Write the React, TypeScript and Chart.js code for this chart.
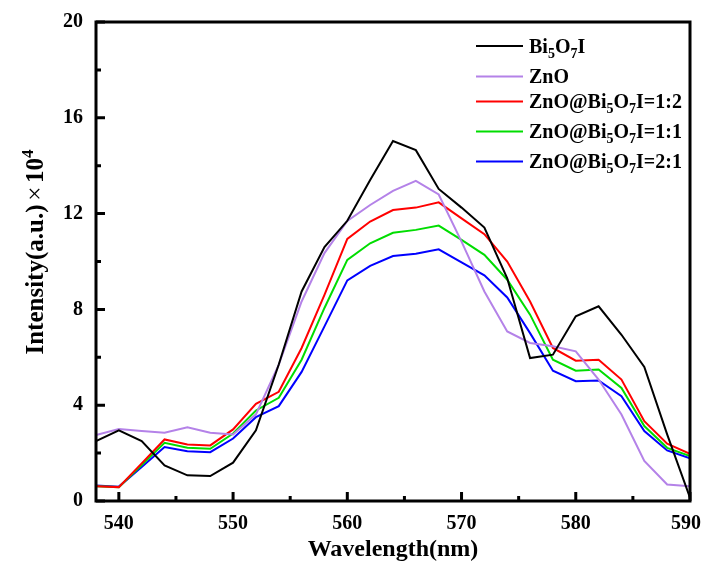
import React, { useEffect, useRef } from "react";
import { Chart, registerables } from "chart.js";

Chart.register(...registerables);

const wavelength = [538, 540, 542, 544, 546, 548, 550, 552, 554, 556, 558, 560, 562, 564, 566, 568, 570, 572, 574, 576, 578, 580, 582, 584, 586, 588, 590];
const bi5o7i = [2.5, 2.95, 2.5, 1.49, 1.07, 1.04, 1.6, 2.95, 5.7, 8.75, 10.6, 11.7, 13.4, 15.03, 14.65, 13.03, 12.25, 11.42, 9.3, 5.97, 6.11, 7.71, 8.13, 6.94, 5.6, 2.78, 0.14];
const zno = [2.75, 3.01, 2.92, 2.85, 3.08, 2.85, 2.78, 3.62, 5.69, 8.33, 10.35, 11.69, 12.36, 12.95, 13.37, 12.8, 10.83, 8.75, 7.08, 6.6, 6.46, 6.25, 5.07, 3.61, 1.67, 0.69, 0.62];
const ratio12 = [0.62, 0.58, 1.57, 2.57, 2.36, 2.32, 2.99, 4.06, 4.56, 6.39, 8.61, 10.94, 11.67, 12.15, 12.25, 12.47, 11.8, 11.14, 10.0, 8.33, 6.39, 5.86, 5.9, 5.07, 3.33, 2.39, 1.97];
const ratio11 = [0.62, 0.58, 1.5, 2.43, 2.22, 2.18, 2.82, 3.78, 4.31, 5.9, 8.06, 10.07, 10.76, 11.2, 11.32, 11.5, 10.9, 10.28, 9.24, 7.78, 5.9, 5.44, 5.49, 4.72, 3.13, 2.22, 1.88];
const ratio21 = [0.65, 0.6, 1.42, 2.25, 2.08, 2.04, 2.61, 3.5, 3.96, 5.39, 7.29, 9.21, 9.82, 10.23, 10.32, 10.51, 9.96, 9.42, 8.5, 7.01, 5.44, 5.0, 5.03, 4.38, 2.92, 2.11, 1.78];

const seriesValues = [bi5o7i, zno, ratio12, ratio11, ratio21];
const seriesLabels = ["Bi₅O₇I", "ZnO", "ZnO@Bi₅O₇I=1:2", "ZnO@Bi₅O₇I=1:1", "ZnO@Bi₅O₇I=2:1"];
const seriesColors = ["#000000", "#b482e8", "#ff0000", "#00dd00", "#0000ff"];

const xTicks = [540, 550, 560, 570, 580, 590];
const xMinorTicks = [545, 555, 565, 575, 585];
const yTicks = [0, 4, 8, 12, 16, 20];
const yMinorTicks = [2, 6, 10, 14, 18];
const xTitle = "Wavelength(nm)";
const yTitle = "Intensity(a.u.)×10⁴";

const FONT = '"Liberation Serif", "Times New Roman", serif';
const SUB = "₀₁₂₃₄₅₆₇₈₉";
const SUP = "⁰¹²³⁴⁵⁶⁷⁸⁹";

type Seg = { t: string; k: "n" | "sub" | "sup" | "op" };

function segs(s: string): Seg[] {
  const out: Seg[] = [];
  for (const ch of s) {
    let k: Seg["k"] = "n";
    let t = ch;
    const si = SUB.indexOf(ch);
    const pi = SUP.indexOf(ch);
    if (si >= 0) { k = "sub"; t = String(si); }
    else if (pi >= 0) { k = "sup"; t = String(pi); }
    else if (ch === "×") { k = "op"; }
    const last = out[out.length - 1];
    if (last && last.k === k) last.t += t;
    else out.push({ t, k });
  }
  return out;
}

function fontFor(k: Seg["k"], size: number) {
  if (k === "sub" || k === "sup") return `bold ${Math.round(size * 0.68)}px ${FONT}`;
  if (k === "op") return `${size}px ${FONT}`;
  return `bold ${size}px ${FONT}`;
}

function richWidth(ctx: CanvasRenderingContext2D, s: string, size: number) {
  let w = 0;
  for (const sg of segs(s)) {
    ctx.font = fontFor(sg.k, size);
    w += ctx.measureText(sg.t).width + (sg.k === "op" ? size * 0.3 : 0);
  }
  return w;
}

function drawRich(ctx: CanvasRenderingContext2D, s: string, x: number, y: number, size: number) {
  ctx.textBaseline = "alphabetic";
  ctx.textAlign = "left";
  let cx = x;
  for (const sg of segs(s)) {
    ctx.font = fontFor(sg.k, size);
    const dy = sg.k === "sub" ? size * 0.25 : sg.k === "sup" ? -size * 0.42 : 0;
    if (sg.k === "op") cx += size * 0.15;
    ctx.fillText(sg.t, cx, y + dy);
    cx += ctx.measureText(sg.t).width;
    if (sg.k === "op") cx += size * 0.15;
  }
}

const legendRows = [46, 76.5, 101.5, 131.5, 161.5];

const decorPlugin = {
  id: "decor",
  afterDatasetsDraw(chart: any) {
    const { ctx, chartArea: a, scales, width } = chart;
    const x = scales.x;
    const y = scales.y;
    ctx.save();
    ctx.strokeStyle = "#000";
    ctx.fillStyle = "#000";
    ctx.lineWidth = 3;
    ctx.lineCap = "butt";
    ctx.beginPath();
    for (const v of xTicks) {
      const px = x.getPixelForValue(v);
      ctx.moveTo(px, a.bottom); ctx.lineTo(px, a.bottom - 9);
    }
    for (const v of xMinorTicks) {
      const px = x.getPixelForValue(v);
      ctx.moveTo(px, a.bottom); ctx.lineTo(px, a.bottom - 5);
    }
    for (const v of yTicks) {
      const py = y.getPixelForValue(v);
      ctx.moveTo(a.left, py); ctx.lineTo(a.left + 9, py);
    }
    for (const v of yMinorTicks) {
      const py = y.getPixelForValue(v);
      ctx.moveTo(a.left, py); ctx.lineTo(a.left + 5, py);
    }
    ctx.stroke();
    ctx.strokeRect(a.left, a.top, a.right - a.left, a.bottom - a.top);

    // x tick labels (kept inside the canvas)
    ctx.font = `bold 20px ${FONT}`;
    ctx.textBaseline = "middle";
    ctx.textAlign = "center";
    for (const v of xTicks) {
      const label = String(v);
      const tw = ctx.measureText(label).width;
      let px = x.getPixelForValue(v);
      if (px + tw / 2 > width - 1) px = width - 1 - tw / 2;
      ctx.fillText(label, px, a.bottom + 23);
    }

    // legend
    seriesLabels.forEach((lab, i) => {
      const ry = legendRows[i];
      ctx.strokeStyle = seriesColors[i];
      ctx.lineWidth = 2;
      ctx.beginPath();
      ctx.moveTo(476, ry);
      ctx.lineTo(523, ry);
      ctx.stroke();
      ctx.fillStyle = "#000";
      drawRich(ctx, lab, 529, ry + 6.5, 20);
    });

    // y title
    ctx.fillStyle = "#000";
    ctx.translate(43, 252);
    ctx.rotate(-Math.PI / 2);
    const w = richWidth(ctx, yTitle, 25);
    drawRich(ctx, yTitle, -w / 2, 0, 25);
    ctx.restore();
  },
};

export default function App() {
  const ref = useRef<HTMLCanvasElement | null>(null);
  useEffect(() => {
    document.body.style.margin = "0";
    if (!ref.current) return;
    const chart = new Chart(ref.current, {
      type: "line",
      data: {
        datasets: seriesValues.map((vals, i) => ({
          label: seriesLabels[i],
          data: wavelength.map((w, j) => ({ x: w, y: vals[j] })),
          borderColor: seriesColors[i],
          backgroundColor: seriesColors[i],
          borderWidth: 2,
          pointRadius: 0,
          tension: 0,
          fill: false,
        })),
      },
      options: {
        animation: false,
        responsive: false,
        devicePixelRatio: 1,
        layout: { padding: { left: 0, right: 12, top: 22, bottom: 0 } },
        plugins: { legend: { display: false }, tooltip: { enabled: false } },
        scales: {
          x: {
            type: "linear",
            min: 538,
            max: 590,
            afterBuildTicks: (s: any) => { s.ticks = xTicks.map((v) => ({ value: v })); },
            afterFit: (s: any) => { s.height = 63; s.paddingLeft = 0; s.paddingRight = 0; },
            grid: { display: false, drawTicks: false },
            border: { display: false },
            ticks: { display: false },
            title: {
              display: true,
              text: xTitle,
              color: "#000",
              font: { family: FONT, size: 24, weight: "bold" },
              padding: { top: 0, bottom: 0 },
            },
          },
          y: {
            type: "linear",
            min: 0,
            max: 20,
            afterBuildTicks: (s: any) => { s.ticks = yTicks.map((v) => ({ value: v })); },
            afterFit: (s: any) => { s.width = 96; s.paddingTop = 0; s.paddingBottom = 0; },
            grid: { display: false, drawTicks: false },
            border: { display: false },
            ticks: {
              padding: 13,
              color: "#000",
              font: { family: FONT, size: 20, weight: "bold" },
            },
          },
        },
      },
      plugins: [decorPlugin],
    } as any);
    return () => chart.destroy();
  }, []);
  return (
    <div style={{ width: 702, height: 564, background: "#fff" }}>
      <canvas ref={ref} width={702} height={564} style={{ display: "block" }} />
    </div>
  );
}
